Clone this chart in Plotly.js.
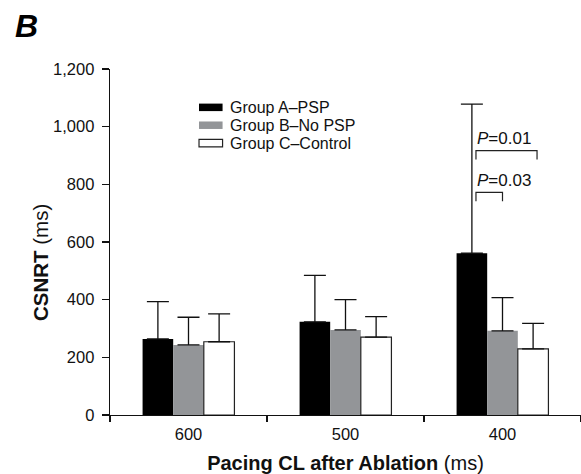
<!DOCTYPE html>
<html>
<head>
<meta charset="utf-8">
<script src="https://cdn.plot.ly/plotly-3.0.1.min.js"></script>
<style>html,body{margin:0;padding:0;background:#fff;}#chart{width:581px;height:474px;}</style>
</head>
<body>
<div id="chart"></div>
<script>
// ---- data ----
var categories = ['600', '500', '400'];
var seriesNames = ['Group A\u2013PSP', 'Group B\u2013No PSP', 'Group C\u2013Control'];
var groupA = [264, 323, 561];
var groupAErrTop = [393, 484, 1078];
var groupB = [243, 295, 292];
var groupBErrTop = [339, 400, 407];
var groupC = [254, 270, 229];
var groupCErrTop = [351, 341, 318];
var yTicks = [0, 200, 400, 600, 800, 1000, 1200];
var pLabels = ['P=0.03', 'P=0.01'];

var FONT = 'Arial, "Liberation Sans", Helvetica, sans-serif';
var colors = ['#000000', '#939598', '#ffffff'];
var lineColors = ['#000000', '#939598', '#222222'];
var values = [groupA, groupB, groupC];
var tops = [groupAErrTop, groupBErrTop, groupCErrTop];

var traces = values.map(function (v, i) {
  return {
    type: 'bar',
    name: seriesNames[i],
    x: categories,
    y: v,
    marker: {color: colors[i], line: {color: lineColors[i], width: i === 2 ? 1.2 : 0}},
    error_y: {
      type: 'data', symmetric: false,
      array: tops[i].map(function (t, k) { return t - v[k]; }),
      arrayminus: v.map(function () { return 0; }),
      width: 11, thickness: 1.3, color: '#111'
    },
    hoverinfo: 'x+y+name'
  };
});

// legend drawn manually (tight row spacing)
var legendY = [1067, 1005, 943];
var shapes = [];
var annotations = [];
seriesNames.forEach(function (n, i) {
  shapes.push({type: 'rect', xref: 'paper', yref: 'y',
    x0: 0.189, x1: 0.239, y0: legendY[i] - 13, y1: legendY[i] + 13,
    fillcolor: colors[i], line: {color: i === 2 ? '#222' : colors[i], width: i === 2 ? 1.2 : 0}});
  annotations.push({xref: 'paper', yref: 'y', x: 0.253, y: legendY[i], text: n,
    showarrow: false, xanchor: 'left', yanchor: 'middle', borderpad: 0,
    font: {family: FONT, size: 16, color: '#111'}});
});

// significance brackets (400 ms group)
var barW = 0.195;
var brackets = [
  {x0: 2 - barW + 0.026, x1: 2.0, y: 772, leg: 31, label: pLabels[0]},
  {x0: 2 - barW + 0.026, x1: 2 + barW + 0.025, y: 917, leg: 31, label: pLabels[1]}
];
brackets.forEach(function (b) {
  shapes.push({type: 'path', xref: 'x', yref: 'y',
    path: 'M' + b.x0 + ',' + (b.y - b.leg) + ' L' + b.x0 + ',' + b.y + ' L' + b.x1 + ',' + b.y + ' L' + b.x1 + ',' + (b.y - b.leg),
    line: {color: '#222', width: 1.2}});
  var parts = b.label.split('=');
  annotations.push({xref: 'x', yref: 'y', x: b.x0 - 0.005, y: b.y + 2, text: '<i>' + parts[0] + '</i>=' + parts[1],
    showarrow: false, xanchor: 'left', yanchor: 'bottom',
    font: {family: FONT, size: 17, color: '#111'}});
});

// panel letter
annotations.push({xref: 'paper', yref: 'paper', x: -0.178, y: 1.125, xanchor: 'center', yanchor: 'middle',
  text: '<b><i>B</i></b>', showarrow: false, font: {family: FONT, size: 32, color: '#000'}});
// y-axis title
annotations.push({xref: 'paper', yref: 'paper', x: -0.148, y: 0.44, xanchor: 'center', yanchor: 'middle',
  textangle: -90, text: '<b>CSNRT</b> (ms)', showarrow: false, font: {family: FONT, size: 20.5, color: '#111'}});

var layout = {
  width: 581, height: 474,
  margin: {l: 110, r: 0, t: 69, b: 59, pad: 0},
  paper_bgcolor: '#fff', plot_bgcolor: '#fff',
  showlegend: false,
  barmode: 'group', bargap: 0.415, bargroupgap: 0,
  font: {family: FONT, size: 16, color: '#111'},
  xaxis: {
    type: 'category', tickson: 'boundaries', ticks: 'outside', ticklen: 6, tickwidth: 1.2, tickcolor: '#111',
    showline: true, linecolor: '#111', linewidth: 1.3, showgrid: false, zeroline: false,
    ticklabelstandoff: 4,
    tickfont: {family: FONT, size: 16.5, color: '#111'},
    title: {text: '<b>Pacing CL after Ablation</b> (ms)', font: {family: FONT, size: 20, color: '#111'}, standoff: 16},
    automargin: false, fixedrange: true
  },
  yaxis: {
    range: [0, 1200], tickvals: yTicks, tickformat: ',', ticks: 'outside', ticklen: 7, tickwidth: 1.2, tickcolor: '#111',
    showline: true, linecolor: '#111', linewidth: 1.3, showgrid: false, zeroline: false,
    ticklabelstandoff: 4,
    tickfont: {family: FONT, size: 16.5, color: '#111'}, automargin: false, fixedrange: true
  },
  shapes: shapes,
  annotations: annotations
};

Plotly.newPlot('chart', traces, layout, {displayModeBar: false, staticPlot: true});
</script>
</body>
</html>
